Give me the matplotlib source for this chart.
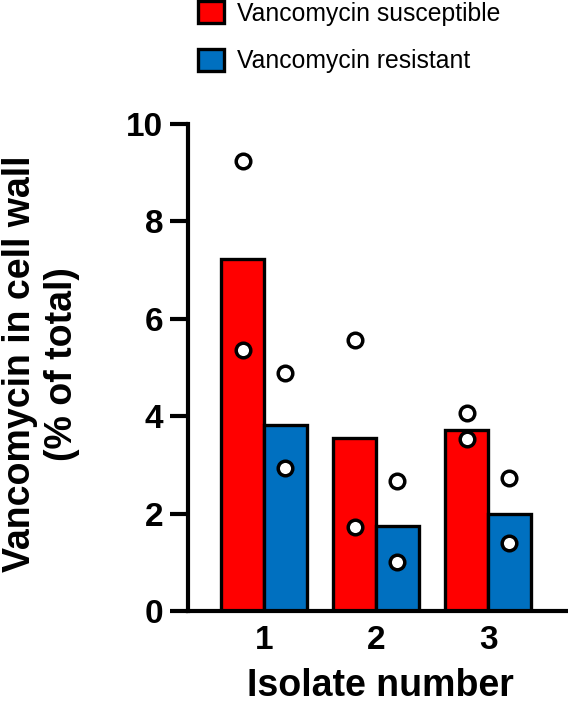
import matplotlib
matplotlib.use('Agg')
from matplotlib import pyplot as plt
from matplotlib.patches import Patch
import numpy as np

# values
isolates = ['1', '2', '3']
susceptible_mean = [7.22, 3.55, 3.72]
resistant_mean = [3.82, 1.75, 1.99]
susceptible_pts = [[9.24, 5.36], [5.56, 1.72], [4.06, 3.53]]
resistant_pts = [[4.88, 2.94], [2.66, 1.00], [2.74, 1.39]]
series_names = ['Vancomycin susceptible', 'Vancomycin resistant']
yticks = [0, 2, 4, 6, 8, 10]

RED = '#FF0000'
BLUE = '#0070C0'


def main():
    plt.rcParams['font.family'] = ['Liberation Sans', 'DejaVu Sans']

    fig = plt.figure(figsize=(5.68, 7.04), dpi=100)
    ax = fig.add_axes([188 / 568, 1 - 611 / 704, 380 / 568, 487 / 704])

    x = np.arange(len(isolates))
    w = 0.38
    ax.bar(x, susceptible_mean, width=-w, align='edge', color=RED,
           edgecolor='black', linewidth=2.4, zorder=2)
    ax.bar(x, resistant_mean, width=w, align='edge', color=BLUE,
           edgecolor='black', linewidth=2.4, zorder=2)

    for i in range(len(isolates)):
        for v in susceptible_pts[i]:
            ax.plot(x[i] - w / 2, v, 'o', ms=10.5, mfc='white', mec='black',
                    mew=2.5, zorder=3, clip_on=False)
        for v in resistant_pts[i]:
            ax.plot(x[i] + w / 2, v, 'o', ms=10.5, mfc='white', mec='black',
                    mew=2.5, zorder=3, clip_on=False)

    ax.set_xlim(-0.679, 2.714)
    ax.set_ylim(0, 10)
    ax.set_yticks(yticks)
    ax.set_xticks(x)
    ax.set_xticklabels(isolates)

    for s in ['top', 'right']:
        ax.spines[s].set_visible(False)
    for s in ['left', 'bottom']:
        ax.spines[s].set_linewidth(3)
    ax.tick_params(axis='y', length=13, width=3, pad=5, labelsize=24)
    ax.tick_params(axis='x', length=0, pad=10, labelsize=24)
    for lab in ax.get_xticklabels() + ax.get_yticklabels():
        lab.set_fontweight('bold')

    fig.text(380 / 568, 8 / 704, 'Isolate number', ha='center', va='baseline',
             fontsize=27, fontweight='bold')
    fig.text(41 / 568, 1 - 364 / 704, 'Vancomycin in cell wall\n(% of total)',
             rotation=90, ha='center', va='center', multialignment='center',
             fontsize=27, fontweight='bold', linespacing=1.2)

    handles = [Patch(facecolor=RED, edgecolor='black', linewidth=2.4),
               Patch(facecolor=BLUE, edgecolor='black', linewidth=2.4)]
    fig.legend(handles, series_names, loc='upper left',
               bbox_to_anchor=(197 / 568, 1.0), frameon=False, fontsize=17.8,
               borderpad=0.05, borderaxespad=0, handlelength=1.05,
               handleheight=0.97, handletextpad=0.53, labelspacing=0.95)

    fig.savefig('out.png', dpi=100)


if __name__ == '__main__':
    main()
